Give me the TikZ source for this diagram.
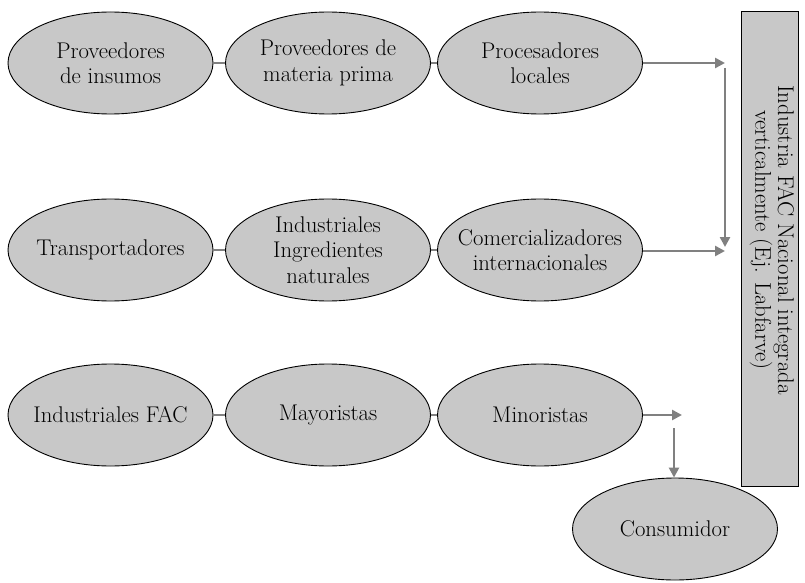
\documentclass[tikz,border=0pt]{standalone}
\usetikzlibrary{shapes.geometric,arrows.meta}
\definecolor{blobfill}{RGB}{200,200,200}
\definecolor{linkgray}{RGB}{128,128,128}
\begin{document}
\begin{tikzpicture}[x=1bp,y=-1bp,
  txt/.style={font=\fontsize{22.8}{25.5}\selectfont, align=center, text=black},
  boxtxt/.style={font=\fontsize{22.8}{20}\selectfont, align=center, text=black},
  blob/.style={ellipse, draw=black, line width=0.9bp, fill=blobfill,
    minimum width=205bp, minimum height=102bp, inner sep=0pt},
  link/.style={draw=linkgray, line width=2.8bp},
  arr/.style={draw=linkgray, line width=2.6bp, -{Triangle[length=10bp,width=10bp]}, color=linkgray}
]
\useasboundingbox (0,0) rectangle (805,583);

% row 1
\node[blob, label={[txt]center:Proveedores\\de insumos}] (a1) at (110.5,63) {};
\node[blob, label={[txt]center:Proveedores de\\materia prima}] (a2) at (328,63) {};
\node[blob, label={[txt]center:Procesadores\\locales}] (a3) at (540,63) {};
% row 2
\node[blob, label={[txt]center:Transportadores}] (b1) at (110.5,250) {};
\node[blob, label={[txt]center:Industriales\\Ingredientes\\naturales}] (b2) at (328,250) {};
\node[blob, label={[txt]center:Comercializadores\\internacionales}] (b3) at (540,250) {};
% row 3
\node[blob, label={[txt]center:Industriales FAC}] (c1) at (110.5,415) {};
\node[blob, label={[txt]center:Mayoristas}] (c2) at (328,415) {};
\node[blob, label={[txt]center:Minoristas}] (c3) at (540,415) {};
% consumer
\node[blob, label={[txt]center:Consumidor}] (cons) at (675,529) {};

% box
\node[draw=black, line width=1bp, fill=blobfill, minimum width=57bp, minimum height=474bp,
  inner sep=0pt] (ind) at (769.5,249) {};
\node[boxtxt, rotate=-90] (indtxt) at (772,240) {Industria FAC Nacional integrada\\verticalmente (Ej. Labfarve)};

% links
\draw[link] (a1) -- (a2);
\draw[link] (a2) -- (a3);
\draw[link] (b1) -- (b2);
\draw[link] (b2) -- (b3);
\draw[link] (c1) -- (c2);
\draw[link] (c2) -- (c3);

% arrows
\coordinate (t1) at (725,63);
\coordinate (t2) at (725,251);
\coordinate (v1) at (725,68);
\coordinate (v2) at (725,247);
\coordinate (t3) at (682,415);
\coordinate (d1) at (674,428);
\draw[arr] (a3.east) -- (t1);
\draw[arr] (b3.east |- t2) -- (t2);
\draw[arr] (v1) -- (v2);
\draw[arr] (c3.east) -- (t3);
\draw[arr] (d1) -- (d1 |- cons.north);
\end{tikzpicture}
\end{document}
